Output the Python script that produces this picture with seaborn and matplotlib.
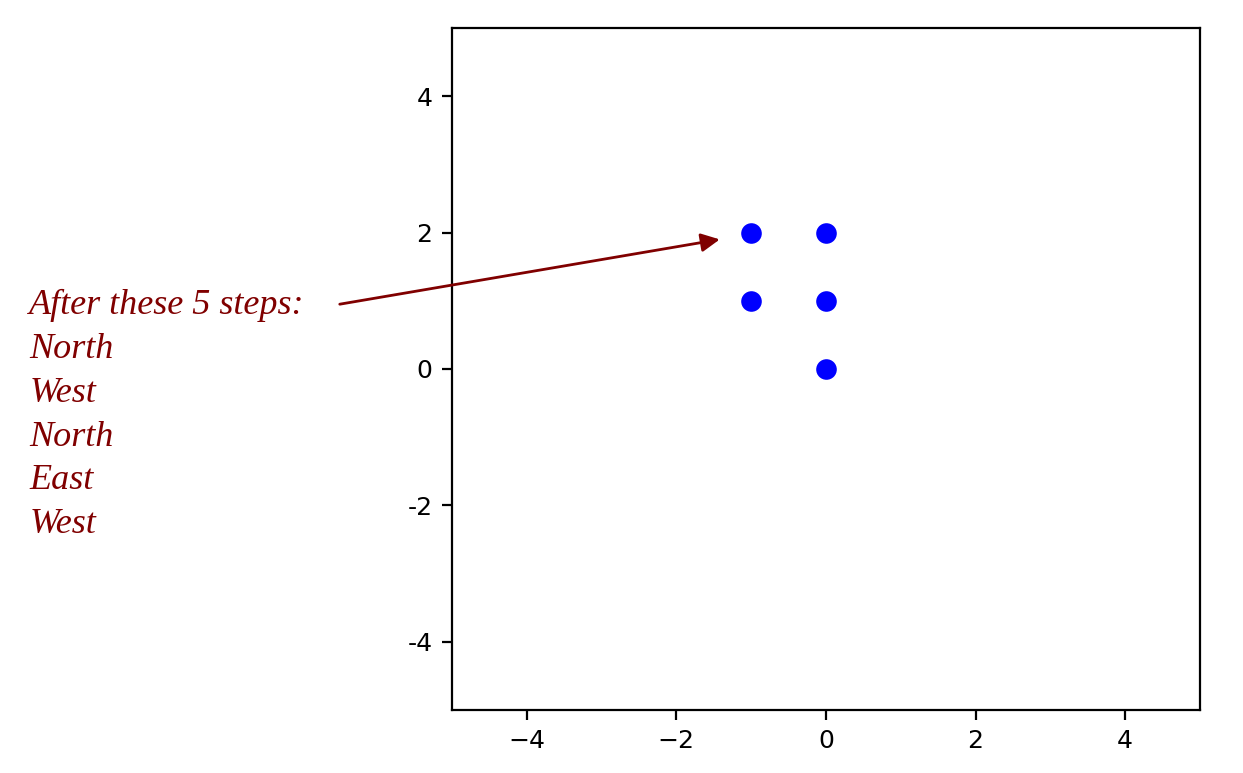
import numpy as np
import pandas as pd
import matplotlib
matplotlib.use("Agg")
import matplotlib.pyplot as plt
import seaborn as sns

# path positions after each step, starting at the origin
steps = ["North", "West", "North", "East", "West"]
x_pos = [0, 0, -1, -1, 0]
y_pos = [0, 1, 1, 2, 2]

tick_vals = [-4, -2, 0, 2, 4]
ytick_labels = ["-4", "-2", "0", "2", "4"]

df = pd.DataFrame({"x": x_pos, "y": y_pos})

sns.set_style("ticks")
plt.rcParams["font.family"] = ["DejaVu Sans"]

fig = plt.figure(figsize=(6.215, 3.865), dpi=200)
ax = fig.add_axes([0.3636, 0.0815, 0.6018, 0.8823])

sns.scatterplot(data=df, x="x", y="y", color="blue", s=55, linewidth=0, ax=ax)

ax.set_xlim(-5, 5)
ax.set_ylim(-5, 5)
ax.set_xticks(tick_vals)
ax.set_yticks(tick_vals)
ax.set_yticklabels(ytick_labels)
ax.set_xlabel("")
ax.set_ylabel("")
for sp in ax.spines.values():
    sp.set_visible(True)
    sp.set_linewidth(0.8)
    sp.set_color("black")
ax.tick_params(direction="out", length=3.5, width=0.8, labelsize=9, colors="black")

# annotation: arrow + step list
maroon = "#800000"
ax.annotate("", xy=(-1.42, 1.9), xytext=(-6.5, 0.95),
            arrowprops=dict(arrowstyle="-|>", color=maroon, lw=1.0,
                            mutation_scale=14, shrinkA=0, shrinkB=0),
            annotation_clip=False)
label = "After these 5 steps:\n" + "\n".join(steps)
ax.text(-10.65, 1.17, label, ha="left", va="top", color=maroon,
        fontsize=13, style="italic", family=["Liberation Serif", "DejaVu Serif"],
        linespacing=1.43, clip_on=False)

fig.savefig("out.png", dpi=200)
